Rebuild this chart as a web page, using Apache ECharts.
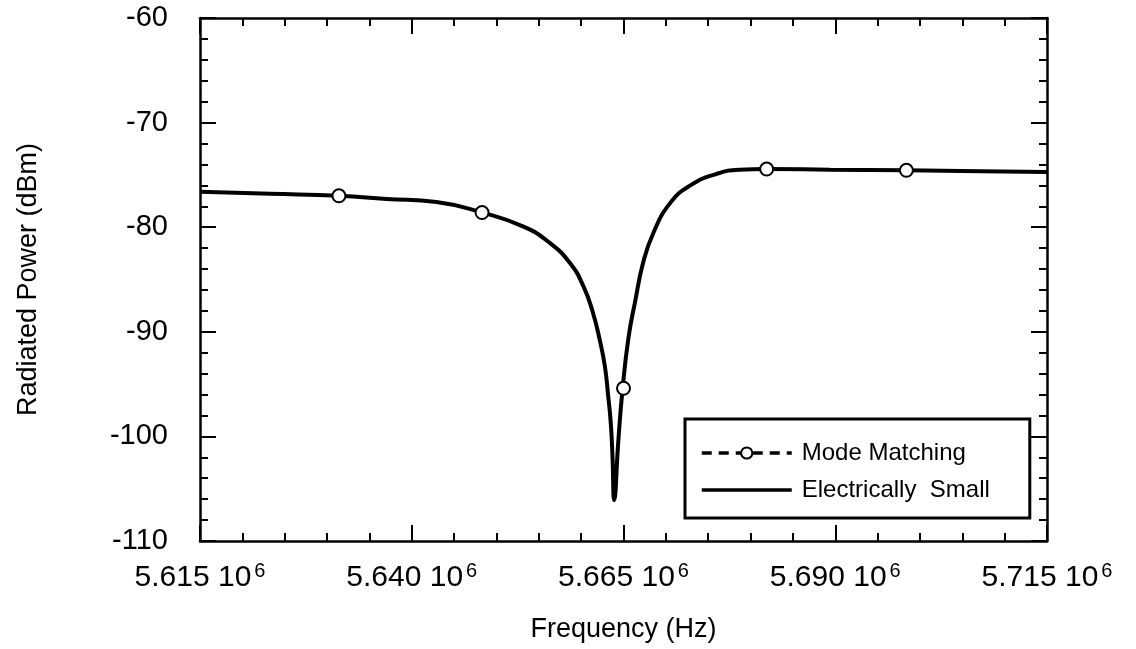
<!DOCTYPE html>
<html>
<head>
<meta charset="utf-8">
<script src="https://cdn.jsdelivr.net/npm/echarts@6/dist/echarts.min.js"></script>
<style>
  html, body { margin: 0; padding: 0; background: #fff; }
  #chart { width: 1136px; height: 649px; }
</style>
</head>
<body>
<div id="chart"></div>
<script>
// frequency in units of 10^6 Hz, power in dBm
var curveFreq = [5.6150, 5.6233, 5.6314, 5.6370, 5.6429, 5.6483, 5.6532, 5.6563, 5.6587, 5.6603,
  5.6614, 5.6622, 5.6628, 5.6632, 5.6635, 5.6637, 5.6639, 5.6644, 5.6649, 5.6656,
  5.6664, 5.6673, 5.6685, 5.6705, 5.6729, 5.6760, 5.6787, 5.6819, 5.6894, 5.6984,
  5.7071, 5.7150];
var curvePower = [-76.6, -76.8, -77.0, -77.3, -77.6, -78.6, -79.95, -81.5, -83.45, -85.7,
  -88.2, -90.8, -93.3, -96.2, -98.75, -101.9, -106.1, -100.3, -95.4, -90.5,
  -87.0, -83.45, -80.6, -77.7, -76.0, -74.9, -74.5, -74.44, -74.5, -74.56,
  -74.65, -74.72];

var modeFreq = [5.6314, 5.6483, 5.6650, 5.6819, 5.6984];
var modePower = [-77.0, -78.6, -95.4, -74.44, -74.56];

var FONT = 'Liberation Sans, Arial, sans-serif';

function pairs(xs, ys) {
  var out = [];
  for (var i = 0; i < xs.length; i++) out.push([xs[i], ys[i]]);
  return out;
}

var chart = echarts.init(document.getElementById('chart'), null, { renderer: 'canvas' });

// common frame style: ticks inside, long major / short minor
var lineSty = { color: '#000', width: 2.5 };
function frameAxis(extra) {
  return Object.assign({
    axisLine: { show: true, onZero: false, lineStyle: lineSty },
    axisTick: { show: true, inside: true, length: 16, lineStyle: { color: '#000', width: 2 } },
    minorTick: { show: true, splitNumber: 5, length: 8, lineStyle: { color: '#000', width: 2 } },
    splitLine: { show: false },
    minorSplitLine: { show: false }
  }, extra);
}

var option = {
  backgroundColor: '#fff',
  animation: false,
  grid: { left: 200, right: 89, top: 18, bottom: 108 },
  legend: {
    left: 685,
    top: 419,
    orient: 'vertical',
    itemWidth: 90,
    itemHeight: 14,
    itemGap: 13,
    padding: [22, 40, 16, 15],
    borderColor: '#000',
    borderWidth: 3,
    borderRadius: 0,
    selectedMode: false,
    textStyle: { fontFamily: FONT, fontSize: 24, color: '#000', padding: [0, 0, 0, 5] },
    data: [
      {
        name: 'Mode Matching',
        lineStyle: { type: [10, 7], width: 3.5, color: '#000', opacity: 1 }
      },
      {
        name: 'Electrically  Small',
        itemStyle: { opacity: 0 },
        lineStyle: { width: 3.5, color: '#000', opacity: 1 }
      }
    ]
  },
  xAxis: [
    frameAxis({
      type: 'value',
      position: 'bottom',
      min: 5.615,
      max: 5.715,
      interval: 0.025,
      name: 'Frequency (Hz)',
      nameLocation: 'middle',
      nameGap: 75,
      nameTextStyle: { fontFamily: FONT, fontSize: 27, color: '#000', verticalAlign: 'top' },
      axisLabel: {
        margin: 20,
        formatter: function (v) {
          return '{b|' + v.toFixed(3) + ' 10}{s|6}';
        },
        rich: {
          b: { fontFamily: FONT, fontSize: 30, color: '#000', lineHeight: 34 },
          s: { fontFamily: FONT, fontSize: 20, color: '#000', verticalAlign: 'top', lineHeight: 34, padding: [0, 0, 0, 3] }
        }
      }
    }),
    frameAxis({
      type: 'value',
      position: 'top',
      min: 5.615,
      max: 5.715,
      interval: 0.025,
      axisLabel: { show: false }
    })
  ],
  yAxis: [
    frameAxis({
      type: 'value',
      position: 'left',
      min: -110,
      max: -60,
      interval: 10,
      name: 'Radiated Power (dBm)',
      nameLocation: 'middle',
      nameRotate: 90,
      nameGap: 158,
      nameTextStyle: { fontFamily: FONT, fontSize: 27, color: '#000' },
      axisLabel: { margin: 32, fontFamily: FONT, fontSize: 29, color: '#000' }
    }),
    frameAxis({
      type: 'value',
      position: 'right',
      min: -110,
      max: -60,
      interval: 10,
      axisLabel: { show: false }
    })
  ],
  series: [
    {
      name: 'Electrically  Small',
      type: 'line',
      data: pairs(curveFreq, curvePower),
      symbol: 'none',
      smooth: 0.5,
      lineStyle: { color: '#000', width: 4 },
      itemStyle: { color: '#000' },
      z: 2
    },
    {
      name: 'Mode Matching',
      type: 'line',
      data: pairs(modeFreq, modePower),
      symbol: 'circle',
      symbolSize: 13,
      lineStyle: { color: '#000', width: 3, type: 'dashed', opacity: 0 },
      itemStyle: { color: '#fff', borderColor: '#000', borderWidth: 2 },
      z: 3
    }
  ]
};

chart.setOption(option);
</script>
</body>
</html>
